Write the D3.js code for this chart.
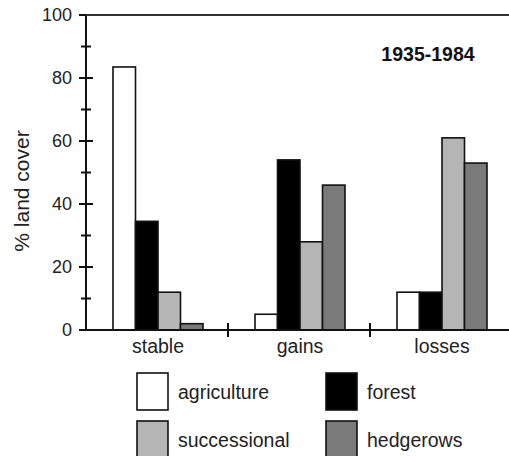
<!DOCTYPE html>
<html>
<head>
<meta charset="utf-8">
<script src="https://cdn.jsdelivr.net/npm/d3@7"></script>
<style>
  html, body { margin: 0; padding: 0; background: #fff; }
  svg { display: block; font-family: "Liberation Sans", Arial, sans-serif; }
</style>
</head>
<body>
<svg id="chart" width="509" height="456"></svg>
<script>
// Land cover change categories and the cover types within each
const categories = ["stable", "gains", "losses"];
const coverTypes = ["agriculture", "forest", "successional", "hedgerows"];
const coverColors = ["#ffffff", "#000000", "#b5b5b5", "#7a7a7a"];

// % land cover per category, in coverTypes order
const stableValues = [83.5, 34.5, 12, 2];
const gainsValues = [5, 54, 28, 46];
const lossesValues = [12, 12, 61, 53];
const seriesValues = [stableValues, gainsValues, lossesValues];

const yTicksMajor = [0, 20, 40, 60, 80, 100];
const yTicksMinor = [10, 30, 50, 70, 90];
const periodLabel = "1935-1984";
const yLabel = "% land cover";

const svg = d3.select("#chart");

const x0 = d3.scaleBand().domain(categories).range([86, 512]).padding(0);
const x1 = d3.scaleBand().domain(coverTypes).range([27, 117]).padding(0);
const y = d3.scaleLinear().domain([0, 100]).range([330, 15]);
const color = d3.scaleOrdinal().domain(coverTypes).range(coverColors);

// Bars
const groups = svg.append("g")
  .selectAll("g")
  .data(categories.map((c, i) => ({ category: c, values: seriesValues[i] })))
  .join("g")
  .attr("transform", d => `translate(${x0(d.category)},0)`);

groups.selectAll("rect")
  .data(d => d.values.map((v, j) => ({ type: coverTypes[j], value: v })))
  .join("rect")
  .attr("x", d => x1(d.type))
  .attr("width", x1.bandwidth())
  .attr("y", d => y(d.value))
  .attr("height", d => y(0) - y(d.value))
  .attr("fill", d => color(d.type))
  .attr("stroke", "#111")
  .attr("stroke-width", 1.6);

// Y axis with major and minor ticks crossing the line
const yAxis = svg.append("g").attr("transform", "translate(86,0)");
yAxis.call(d3.axisLeft(y).tickValues(yTicksMajor).tickSize(0).tickPadding(14))
  .call(g => g.select(".domain").remove())
  .call(g => g.selectAll("text")
    .attr("font-size", 18)
    .attr("fill", "#222")
    .attr("font-family", "Liberation Sans, Arial, sans-serif"));
yAxis.append("line")
  .attr("x1", 0).attr("x2", 0)
  .attr("y1", y(100)).attr("y2", y(0) + 1)
  .attr("stroke", "#111").attr("stroke-width", 2);
yAxis.selectAll("line.major")
  .data(yTicksMajor).join("line").attr("class", "major")
  .attr("x1", -7).attr("x2", 7)
  .attr("y1", d => y(d)).attr("y2", d => y(d))
  .attr("stroke", "#111").attr("stroke-width", 2);
yAxis.selectAll("line.minor")
  .data(yTicksMinor).join("line").attr("class", "minor")
  .attr("x1", -5).attr("x2", 5)
  .attr("y1", d => y(d)).attr("y2", d => y(d))
  .attr("stroke", "#111").attr("stroke-width", 2);

// Top frame line
svg.append("line")
  .attr("x1", 86).attr("x2", 509)
  .attr("y1", y(100)).attr("y2", y(100))
  .attr("stroke", "#333").attr("stroke-width", 2);

// X axis with separators between categories
const xAxis = svg.append("g").attr("transform", `translate(0,${y(0)})`);
xAxis.append("line")
  .attr("x1", 86).attr("x2", 509).attr("y1", 0).attr("y2", 0)
  .attr("stroke", "#111").attr("stroke-width", 2);
xAxis.selectAll("line.sep")
  .data(categories.slice(1)).join("line").attr("class", "sep")
  .attr("x1", d => x0(d)).attr("x2", d => x0(d))
  .attr("y1", -7).attr("y2", 7)
  .attr("stroke", "#111").attr("stroke-width", 2);
xAxis.selectAll("text")
  .data(categories).join("text")
  .attr("x", d => x0(d) + x1(coverTypes[0]) + (x1.range()[1] - x1.range()[0]) / 2)
  .attr("y", 23)
  .attr("text-anchor", "middle")
  .attr("font-size", 19.5)
  .attr("fill", "#222")
  .text(d => d);

// Y axis title
svg.append("text")
  .attr("transform", "translate(29,191) rotate(-90)")
  .attr("text-anchor", "middle")
  .attr("font-size", 21)
  .attr("fill", "#222")
  .text(yLabel);

// Period label
svg.append("text")
  .attr("x", 428).attr("y", 61)
  .attr("text-anchor", "middle")
  .attr("font-size", 19.5)
  .attr("font-weight", "bold")
  .attr("fill", "#111")
  .text(periodLabel);

// Legend
const legendPos = [[137, 373], [326, 373], [137, 421], [326, 421]];
const legend = svg.append("g")
  .selectAll("g")
  .data(coverTypes)
  .join("g")
  .attr("transform", (d, i) => `translate(${legendPos[i][0]},${legendPos[i][1]})`);
legend.append("rect")
  .attr("width", 31).attr("height", 37)
  .attr("fill", d => color(d))
  .attr("stroke", "#111").attr("stroke-width", 1.6);
legend.append("text")
  .attr("x", 41).attr("y", 26)
  .attr("font-size", 19.5)
  .attr("fill", "#222")
  .text(d => d);
</script>
</body>
</html>
